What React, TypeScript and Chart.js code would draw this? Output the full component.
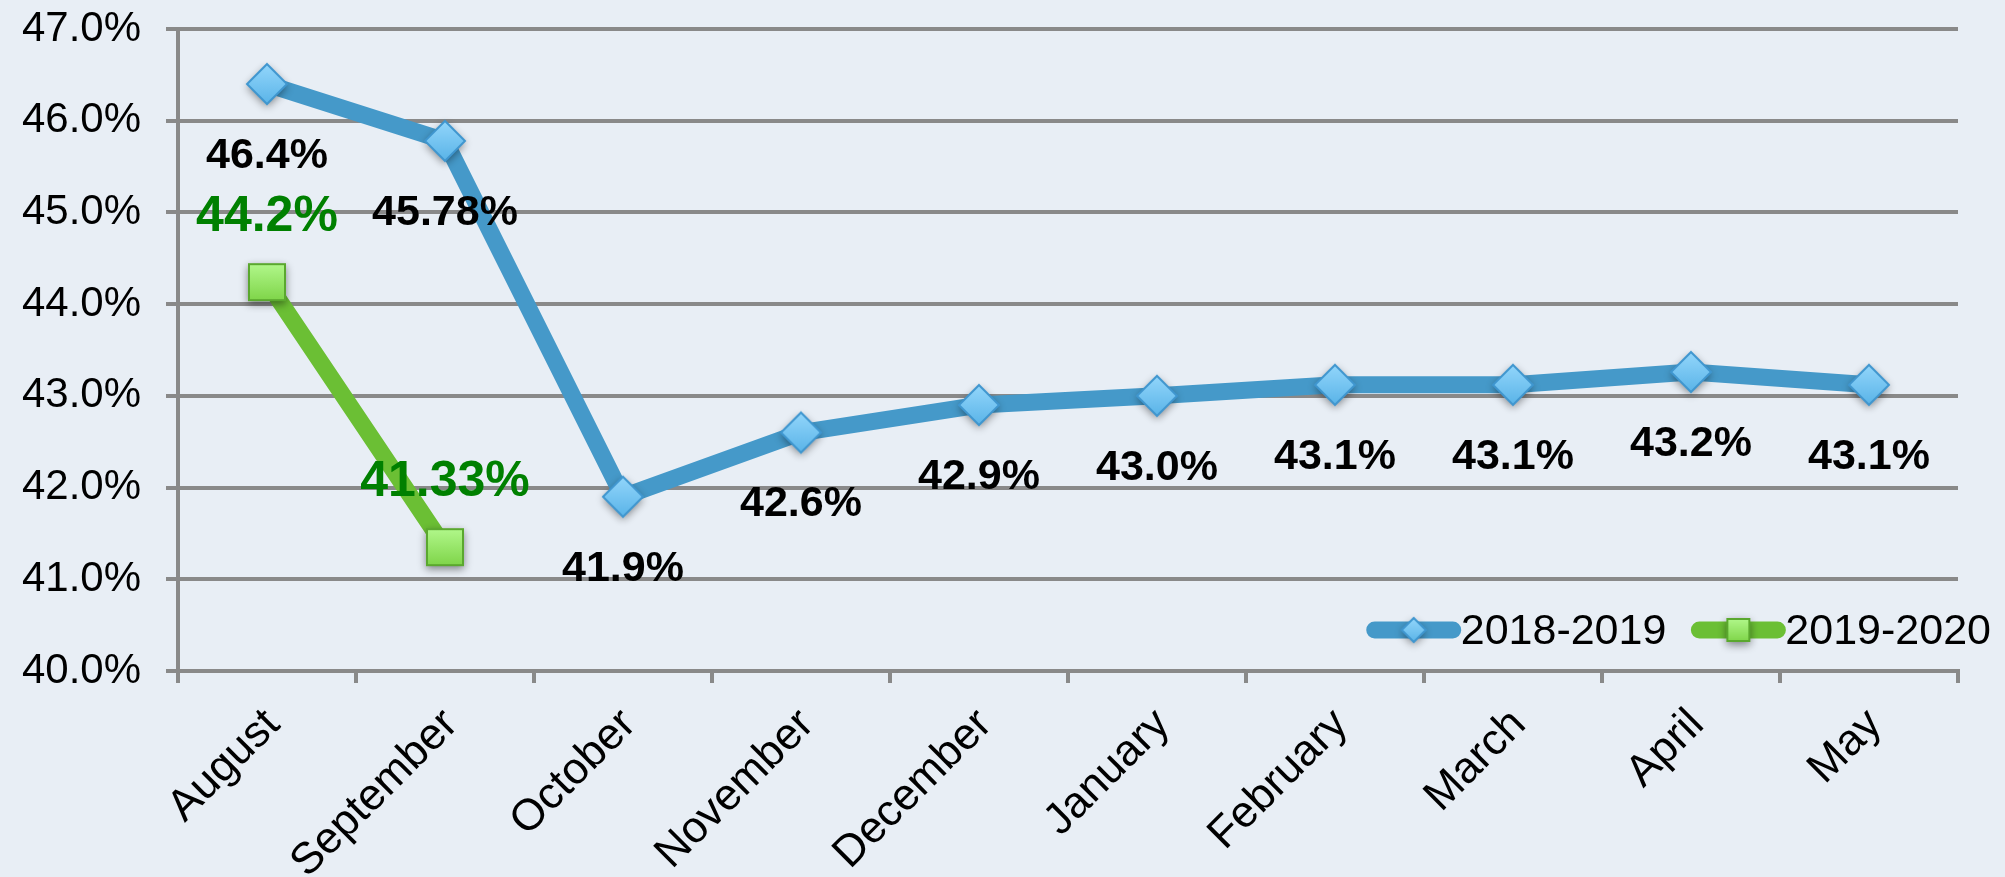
import React, { useEffect, useRef } from 'react';
import { Chart, registerables } from 'chart.js';

Chart.register(...registerables);

// ---- Data ----
const months = ['August', 'September', 'October', 'November', 'December', 'January', 'February', 'March', 'April', 'May'];
const seriesNames = ['2018-2019', '2019-2020'];
const values2018 = [46.4, 45.78, 41.9, 42.6, 42.9, 43.0, 43.12, 43.12, 43.26, 43.12];
const labels2018 = ['46.4%', '45.78%', '41.9%', '42.6%', '42.9%', '43.0%', '43.1%', '43.1%', '43.2%', '43.1%'];
const values2019 = [44.24, 41.35];
const labels2019 = ['44.2%', '41.33%'];
const yMin = 40;
const yMax = 47;
const yStep = 1;

// ---- Style ----
const FONT = '"Liberation Sans", Arial, Helvetica, sans-serif';
const BG = '#e8eef5';
const GRID = '#898989';
const BLUE = '#4599c9';
const GREEN = '#6bbf34';
const LABEL_GREEN = '#008000';

function makeDiamond(r: number) {
  const pad = 12;
  const size = Math.ceil(2 * (r + pad));
  const c = document.createElement('canvas');
  c.width = size;
  c.height = size;
  const ctx = c.getContext('2d')!;
  const cx = size / 2;
  const cy = size / 2;
  const path = () => {
    ctx.beginPath();
    ctx.moveTo(cx, cy - r);
    ctx.lineTo(cx + r, cy);
    ctx.lineTo(cx, cy + r);
    ctx.lineTo(cx - r, cy);
    ctx.closePath();
  };
  ctx.save();
  ctx.shadowColor = 'rgba(0,0,0,0.45)';
  ctx.shadowBlur = 8;
  ctx.shadowOffsetY = 3;
  path();
  ctx.fillStyle = '#6cc0ef';
  ctx.fill();
  ctx.restore();
  path();
  const g = ctx.createLinearGradient(0, cy - r, 0, cy + r);
  g.addColorStop(0, '#93d6fb');
  g.addColorStop(1, '#5ab4e8');
  ctx.fillStyle = g;
  ctx.fill();
  ctx.lineWidth = 2;
  ctx.strokeStyle = '#3f96cf';
  ctx.stroke();
  return c;
}

function makeSquare(s: number) {
  const pad = 12;
  const size = Math.ceil(s + 2 * pad);
  const c = document.createElement('canvas');
  c.width = size;
  c.height = size;
  const ctx = c.getContext('2d')!;
  const x0 = (size - s) / 2;
  const y0 = (size - s) / 2;
  ctx.save();
  ctx.shadowColor = 'rgba(0,0,0,0.45)';
  ctx.shadowBlur = 8;
  ctx.shadowOffsetY = 3;
  ctx.fillStyle = '#8fdc5a';
  ctx.fillRect(x0, y0, s, s);
  ctx.restore();
  const g = ctx.createLinearGradient(0, y0, 0, y0 + s);
  g.addColorStop(0, '#b2f88c');
  g.addColorStop(1, '#7ed448');
  ctx.fillStyle = g;
  ctx.fillRect(x0, y0, s, s);
  ctx.lineWidth = 2;
  ctx.strokeStyle = '#5aa82e';
  ctx.strokeRect(x0 + 1, y0 + 1, s - 2, s - 2);
  return c;
}

export default function App() {
  const canvasRef = useRef<HTMLCanvasElement | null>(null);

  useEffect(() => {
    const canvas = canvasRef.current;
    if (!canvas) return;

    const diamond = makeDiamond(20);
    const square = makeSquare(38);
    const legendDiamond = makeDiamond(12);
    const legendSquare = makeSquare(24);

    const valueLabelPlugin = {
      id: 'valueLabels',
      afterDatasetsDraw(chart: any) {
        const ctx = chart.ctx;
        const cfgs = [
          { texts: labels2018, dy: 72, font: `bold 43px ${FONT}`, color: '#000000' },
          { texts: labels2019, dy: -65, font: `bold 50px ${FONT}`, color: LABEL_GREEN },
        ];
        ctx.save();
        ctx.textAlign = 'center';
        ctx.textBaseline = 'middle';
        chart.data.datasets.forEach((_ds: any, i: number) => {
          const meta = chart.getDatasetMeta(i);
          const cfg = cfgs[i];
          meta.data.forEach((pt: any, j: number) => {
            const t = cfg.texts[j];
            if (!t) return;
            ctx.font = cfg.font;
            ctx.fillStyle = cfg.color;
            ctx.fillText(t, pt.x, pt.y + cfg.dy);
          });
        });
        ctx.restore();
      },
    };

    const legendPlugin = {
      id: 'customLegend',
      afterDraw(chart: any) {
        const ctx = chart.ctx;
        const area = chart.chartArea;
        const y = area.bottom - 41;
        const lineLen = 94;
        const gap = 25;
        ctx.save();
        ctx.font = `43px ${FONT}`;
        ctx.textBaseline = 'middle';
        ctx.textAlign = 'left';
        const items = [
          { name: seriesNames[0], color: BLUE, img: legendDiamond },
          { name: seriesNames[1], color: GREEN, img: legendSquare },
        ];
        const widths = items.map((it) => ctx.measureText(it.name).width);
        let total = 0;
        items.forEach((_it, i) => {
          total += lineLen + widths[i];
          if (i < items.length - 1) total += gap;
        });
        let x = chart.width - 14 - total;
        items.forEach((it, i) => {
          ctx.lineCap = 'round';
          ctx.lineWidth = 17;
          ctx.strokeStyle = it.color;
          ctx.beginPath();
          ctx.moveTo(x + 8, y);
          ctx.lineTo(x + lineLen - 8, y);
          ctx.stroke();
          ctx.drawImage(it.img, x + lineLen / 2 - it.img.width / 2, y - it.img.height / 2);
          ctx.fillStyle = '#000000';
          ctx.fillText(it.name, x + lineLen, y + 2);
          x += lineLen + widths[i] + gap;
        });
        ctx.restore();
      },
    };

    const chart = new Chart(canvas, {
      type: 'line',
      data: {
        labels: months,
        datasets: [
          {
            label: seriesNames[0],
            data: values2018,
            borderColor: BLUE,
            backgroundColor: BLUE,
            borderWidth: 17,
            borderJoinStyle: 'round',
            borderCapStyle: 'round',
            pointStyle: diamond as any,
            pointRadius: 20,
            tension: 0,
            fill: false,
          },
          {
            label: seriesNames[1],
            data: values2019,
            borderColor: GREEN,
            backgroundColor: GREEN,
            borderWidth: 17,
            borderJoinStyle: 'round',
            borderCapStyle: 'round',
            pointStyle: square as any,
            pointRadius: 20,
            tension: 0,
            fill: false,
          },
        ],
      },
      options: {
        responsive: false,
        animation: false,
        devicePixelRatio: 1,
        layout: { autoPadding: false, padding: { top: 29, right: 47, left: 0, bottom: 0 } },
        plugins: {
          legend: { display: false },
          tooltip: { enabled: false },
        },
        scales: {
          x: {
            type: 'category',
            offset: true,
            grid: {
              display: true,
              drawOnChartArea: false,
              drawTicks: true,
              tickLength: 12,
              offset: true,
              color: GRID,
              lineWidth: 4,
            },
            border: { display: true, color: GRID, width: 4 },
            ticks: {
              autoSkip: false,
              maxRotation: 45,
              minRotation: 45,
              padding: 16,
              labelOffset: 6,
              color: '#000000',
              font: { size: 44, family: FONT },
            },
            afterFit(scale: any) {
              scale.height = 206;
              scale.paddingLeft = 0;
              scale.paddingRight = 0;
            },
          },
          y: {
            min: yMin,
            max: yMax,
            ticks: {
              stepSize: yStep,
              padding: 25,
              color: '#000000',
              font: { size: 42, family: FONT },
              callback: (v: any) => Number(v).toFixed(1) + '%',
            },
            grid: { color: GRID, lineWidth: 4, tickLength: 12, drawTicks: true },
            border: { display: true, color: GRID, width: 4 },
            afterFit(scale: any) {
              scale.width = 178;
              scale.paddingTop = 0;
              scale.paddingBottom = 0;
            },
          },
        },
      },
      plugins: [valueLabelPlugin, legendPlugin],
    });

    return () => {
      chart.destroy();
    };
  }, []);

  return (
    <div
      style={{
        position: 'absolute',
        left: 0,
        top: 0,
        width: 2005,
        height: 877,
        background: BG,
        overflow: 'hidden',
      }}
    >
      <canvas ref={canvasRef} width={2005} height={877} style={{ display: 'block', width: 2005, height: 877 }} />
    </div>
  );
}
